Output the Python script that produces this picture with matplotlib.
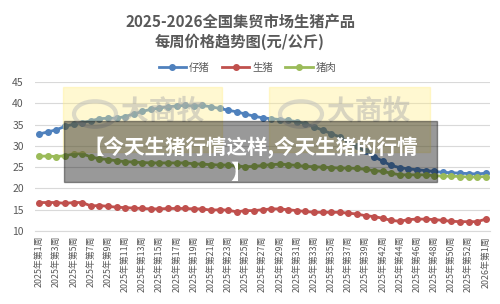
import matplotlib.pyplot as plt
from matplotlib.patches import Rectangle, Circle

plt.rcParams['font.family'] = ['Noto Sans CJK SC', 'DejaVu Sans']

# categories: 2025 weeks (week 40 missing), then the year turn
weeks_2025 = list(range(1, 40)) + list(range(41, 54))
labels = [f'2025年第{w}周' for w in weeks_2025] + ['2026年第1周']

piglet = [32.8, 33.3, 33.8, 34.6, 35.1, 35.5, 35.9, 36.4, 36.5, 36.5,
          36.9, 37.5, 38.1, 38.6, 38.9, 39.2, 39.4, 39.5, 39.4, 39.5,
          39.2, 38.8, 38.4, 38.0, 37.5, 37.0, 36.6, 36.4, 36.2, 36.0,
          35.7, 35.2, 34.5, 33.7, 32.9, 32.1, 31.0, 29.9, 28.7, 27.5,
          26.4, 25.4, 24.9, 24.6, 24.4, 24.2, 24.0, 23.8, 23.7, 23.6,
          23.5, 23.4, 23.6]
hog = [16.7, 16.7, 16.7, 16.5, 16.7, 16.7, 15.9, 16.0, 15.8, 15.6,
       15.5, 15.4, 15.3, 15.2, 15.2, 15.3, 15.3, 15.3, 15.2, 15.2,
       14.9, 15.0, 14.9, 14.5, 14.8, 14.8, 15.0, 15.2, 15.2, 15.0,
       14.8, 14.6, 14.4, 14.4, 14.4, 14.4, 14.2, 14.0, 13.6, 13.4,
       13.0, 12.5, 12.3, 12.7, 12.8, 12.8, 12.7, 12.5, 12.3, 12.2,
       12.2, 12.2, 12.8]
pork = [27.6, 27.6, 27.5, 27.7, 28.1, 28.2, 27.4, 27.0, 26.8, 26.5,
        26.3, 26.2, 26.1, 26.0, 26.0, 26.0, 26.0, 26.0, 25.8, 25.7,
        25.6, 25.5, 25.5, 25.3, 25.1, 25.2, 25.4, 25.6, 25.7, 25.6,
        25.4, 25.2, 25.1, 25.0, 24.9, 24.8, 24.8, 24.7, 24.5, 24.2,
        24.0, 23.6, 23.2, 23.2, 23.2, 23.2, 23.0, 22.9, 22.9, 22.8,
        22.7, 22.7, 22.8]

series = [('仔猪', piglet, '#4F81BD'), ('生猪', hog, '#C0504D'), ('猪肉', pork, '#9BBB59')]
grey = '#595959'

fig = plt.figure(figsize=(5, 3.04), dpi=100)
ax = fig.add_axes([0.07, 0.24, 0.91, 0.49])

x = list(range(len(labels)))
for name, vals, c in series:
    ax.plot(x, vals, '-o', color=c, lw=2, ms=4, label=name, zorder=3)

ax.set_xlim(-0.5, len(labels) - 0.5)
ax.set_ylim(10, 45)
ax.set_yticks(range(10, 50, 5))
ax.grid(axis='y', color='#D9D9D9', lw=0.8)
ax.set_axisbelow(True)
for s in ['top', 'right', 'left']:
    ax.spines[s].set_visible(False)
ax.spines['bottom'].set_color('#D9D9D9')
ax.tick_params(axis='both', length=0, colors=grey, labelsize=7.5)
ax.tick_params(axis='y', pad=8)
ax.set_xticks(x[::2])
ax.set_xticklabels(labels[::2], rotation=90, fontsize=6.4)

fig.text(0.48, 0.928, '2025-2026全国集贸市场生猪产品', ha='center', va='center',
         fontsize=11, fontweight='bold', color=grey)
fig.text(0.48, 0.862, '每周价格趋势图(元/公斤)', ha='center', va='center',
         fontsize=11, fontweight='bold', color=grey)
fig.legend(loc='center', bbox_to_anchor=(0.495, 0.778), ncol=3, frameon=False,
           fontsize=7.5, labelcolor=grey, handlelength=2.6, columnspacing=1.2,
           handletextpad=0.3)

# watermark boxes
for x0, x1 in [(63, 222), (269, 430)]:
    fig.patches.append(Rectangle((x0 / 500, 1 - 152 / 304), (x1 - x0) / 500, 65 / 304,
                                 transform=fig.transFigure, color='#FFEE88', alpha=0.38,
                                 zorder=5))
    fig.patches.append(Circle(((x0 + 32) / 500, 1 - 114 / 304), 0.042,
                              transform=fig.transFigure, fill=False, ec='#BBBBBB',
                              lw=3, alpha=0.5, zorder=5))
    fig.text((x0 + 100) / 500, 1 - 112 / 304, '大商牧', ha='center', va='center',
             fontsize=20, fontweight='bold', color='#AAAAAA', alpha=0.45, zorder=5)

# title overlay
fig.patches.append(Rectangle((64 / 500, 1 - 182 / 304), 373 / 500, 61 / 304,
                             transform=fig.transFigure, color='black', alpha=0.4, zorder=6))
fig.text(251 / 500, 1 - 148 / 304, '【今天生猪行情这样,今天生猪的行情', ha='center', va='center',
         fontsize=14.8, fontweight='bold', color='white', zorder=7)
fig.text(241 / 500, 1 - 172 / 304, '】', ha='center', va='center',
         fontsize=14.8, fontweight='bold', color='white', zorder=7)

fig.savefig('out.png', dpi=100)
